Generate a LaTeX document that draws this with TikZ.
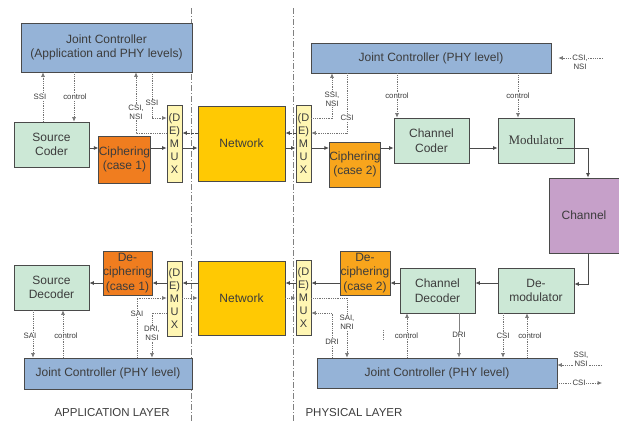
\documentclass[tikz,border=0pt]{standalone}
\usepackage{fontspec}
\setmainfont{Liberation Sans}
\newfontfamily\serifface{Liberation Serif}
\usetikzlibrary{arrows.meta}
\definecolor{jcblue}{HTML}{95B3D7}
\definecolor{blockgreen}{HTML}{CCE8D6}
\definecolor{orangeA}{HTML}{F07D1F}
\definecolor{orangeB}{HTML}{F8A51C}
\definecolor{muxyellow}{HTML}{FFF6B3}
\definecolor{netyellow}{HTML}{FFC903}
\definecolor{chanpurple}{HTML}{C6A0C9}
\definecolor{ink}{HTML}{3C3C3C}
\definecolor{edge}{HTML}{4A4A4A}
\tikzset{
  blk/.style={draw=edge, line width=0.8pt, inner sep=0pt, align=center,
    text=ink, font=\fontsize{12}{14.5}\selectfont},
  jc/.style={blk, fill=jcblue},
  grn/.style={blk, fill=blockgreen},
  mux/.style={blk, fill=muxyellow, font=\fontsize{11}{13}\selectfont},
  lbl/.style={fill=white, inner sep=0.6pt, align=center, text=ink,
    font=\fontsize{7.8}{9}\selectfont},
  tip/.style={-{Latex[length=4.5pt,width=4pt]}},
  sol/.style={tip, draw=edge, line width=0.8pt},
  dot/.style={tip, draw=gray!90!black, line width=0.6pt, dash pattern=on 0.9pt off 0.9pt},
  ret/.style={tip, draw=edge, line width=0.8pt, dash pattern=on 2.5pt off 1.5pt},
  divider/.style={draw=gray, line width=0.9pt, dash pattern=on 6pt off 2pt on 1pt off 2pt},
  layer/.style={text=ink, anchor=west, font=\fontsize{11.5}{13}\selectfont}
}
\begin{document}
\begin{tikzpicture}[x=1pt,y=-1pt]
\useasboundingbox (0,0) rectangle (619,421);

% layer dividers
\coordinate (d1t) at (191,8);  \coordinate (d1b) at (191,421);
\coordinate (d2t) at (293,8);  \coordinate (d2b) at (293,421);
\draw[divider] (d1t) -- (d1b);
\draw[divider] (d2t) -- (d2b);

% ---------- transmit chain ----------
\node[jc, minimum width=171pt, minimum height=49pt] (jcA) at (106.5,47.5)
  {Joint Controller\\(Application and PHY levels)};
\node[grn, minimum width=75pt, minimum height=45pt] (src) at (51.5,144.5) {Source\\Coder};
\node[blk, fill=orangeA, minimum width=51pt, minimum height=47pt] (ciph1) at (124.5,159.5) {Ciphering\\(case 1)};
\node[mux, minimum width=15pt, minimum height=77pt] (dmx1) at (174.5,143.5) {(D\\E)\\M\\U\\X};
\node[blk, fill=netyellow, minimum width=87pt, minimum height=75pt] (net1) at (241.5,143.5) {Network};
\node[mux, minimum width=15pt, minimum height=77pt] (dmx2) at (303.5,143.5) {(D\\E)\\M\\U\\X};
\node[jc, minimum width=240pt, minimum height=30pt] (jcB) at (431,58) {Joint Controller (PHY level)};
\node[blk, fill=orangeB, minimum width=50pt, minimum height=45pt] (ciph2) at (355,164.5) {Ciphering\\(case 2)};
\node[grn, minimum width=75pt, minimum height=45pt] (chc) at (431.5,140.5) {Channel\\Coder};
\node[grn, minimum width=76pt, minimum height=45pt, font=\serifface\fontsize{13}{15}\selectfont] (mod) at (536,140.5) {Modulator};
\node[blk, fill=chanpurple, minimum width=70pt, minimum height=75pt] (chan) at (584,215.5) {Channel};

% ---------- receive chain ----------
\node[grn, minimum width=75pt, minimum height=45pt] (srcd) at (51.5,287.5) {Source\\Decoder};
\node[blk, fill=orangeA, minimum width=49pt, minimum height=44pt] (dec1) at (127.5,273) {De-\\ciphering\\(case 1)};
\node[mux, minimum width=15pt, minimum height=75pt] (dmx3) at (174.5,298.5) {(D\\E)\\M\\U\\X};
\node[blk, fill=netyellow, minimum width=87pt, minimum height=74pt] (net2) at (241.5,298) {Network};
\node[mux, minimum width=15pt, minimum height=75pt] (dmx4) at (303.5,297.5) {(D\\E)\\M\\U\\X};
\node[blk, fill=orangeB, minimum width=50pt, minimum height=44pt] (dec2) at (365,273) {De-\\ciphering\\(case 2)};
\node[grn, minimum width=75pt, minimum height=45pt] (chd) at (437.5,290.5) {Channel\\Decoder};
\node[grn, minimum width=76pt, minimum height=45pt] (demod) at (536,290.5) {De-\\modulator};
\node[jc, minimum width=168pt, minimum height=31pt] (jcC) at (108,373.5) {Joint Controller (PHY level)};
\node[jc, minimum width=240pt, minimum height=30pt] (jcD) at (437,373) {Joint Controller (PHY level)};

% layer captions
\node[layer] (appl) at (51,413) {APPLICATION LAYER};
\node[layer] (phyl) at (302,413) {PHYSICAL LAYER};

% ---------- data paths ----------
\draw[sol] (src.east |- 0,148) -- (ciph1.west |- 0,148);
\draw[sol] (ciph1.east |- 0,148) -- (dmx1.west |- 0,148);
\draw[sol] (dmx1.east |- 0,148) -- (net1.west |- 0,148);
\draw[sol] (net1.east |- 0,148) -- (dmx2.west |- 0,148);
\draw[sol] (dmx2.east |- 0,148) -- (ciph2.west |- 0,148);
\draw[sol] (ciph2.east |- 0,148) -- (chc.west |- 0,148);
\draw[sol] (chc.east |- 0,148) -- (mod.west |- 0,148);
\draw[ret] (net1.west |- 0,133) -- (dmx1.east |- 0,133);
\draw[ret] (dmx2.west |- 0,133) -- (net1.east |- 0,133);

\coordinate (modout) at (557,148);
\draw[sol] (modout) -| ([xshift=4pt]chan.north);
\draw[sol] ([xshift=4pt]chan.south) |- (demod.east |- 0,284);

\draw[sol] (demod.west |- 0,283) -- (chd.east |- 0,283);
\draw[sol] (chd.west |- 0,283) -- (dec2.east |- 0,283);
\draw[sol] (dec2.west |- 0,283) -- (dmx4.east |- 0,283);
\draw[sol] (dmx4.west |- 0,283) -- (net2.east |- 0,283);
\draw[sol] (net2.west |- 0,283) -- (dmx3.east |- 0,283);
\draw[sol] (dmx3.west |- 0,283) -- (dec1.east |- 0,283);
\draw[sol] (dec1.west |- 0,283) -- (srcd.east |- 0,283);
\draw[dot] (dmx3.east |- 0,298) -- (net2.west |- 0,298);
\draw[dot] (net2.east |- 0,298) -- (dmx4.west |- 0,298);

% ---------- control / side information ----------
\draw[dot] (43,0 |- src.north) -- (43,0 |- jcA.south);
\draw[dot] (74,0 |- jcA.south) -- (74,0 |- src.north);
\draw[dot] (dmx1.west |- 0,133) -| (136,0 |- jcA.south);
\draw[dot] (152,0 |- jcA.south) |- (dmx1.west |- 0,118);
\node[lbl] (tSSI) at (40,97) {SSI};
\node[lbl] (tctlA) at (75,97) {control};
\node[lbl] (tCSIA) at (136,112.5) {CSI,\\NSI};
\node[lbl] (tSSIb) at (152,103) {SSI};

\draw[dot] (dmx2.east |- 0,118) -| (332,0 |- jcB.south);
\draw[dot] (347,0 |- jcB.south) |- (dmx2.east |- 0,133);
\draw[dot] (397,0 |- jcB.south) -- (397,0 |- chc.north);
\draw[dot] (518,0 |- jcB.south) -- (518,0 |- mod.north);
\coordinate (extA) at (603,58);
\draw[dot] (extA) -- ([xshift=7pt]jcB.east);
\node[lbl] (tSSIc) at (332,99.5) {SSI,\\NSI};
\node[lbl] (tCSIb) at (347,118) {CSI};
\node[lbl] (tctlB) at (397,96) {control};
\node[lbl] (tctlC) at (518,96) {control};
\node[lbl] (tCSIc) at (580,62.5) {CSI,\\NSI};

\draw[dot] (33,0 |- srcd.south) -- (33,0 |- jcC.north);
\draw[dot] (63,0 |- jcC.north) -- (63,0 |- srcd.south);
\draw[dot] (137,0 |- jcC.north) |- (dmx3.west |- 0,298);
\draw[dot] (dmx3.west |- 0,313) -| (152,0 |- jcC.north);
\node[lbl] (tSAIa) at (30,336) {SAI};
\node[lbl] (tctlD) at (66,336) {control};
\node[lbl] (tSAIb) at (137,314) {SAI};
\node[lbl] (tDRIa) at (152,333.5) {DRI,\\NSI};

\draw[dot] (dmx4.east |- 0,298) -| (347,0 |- jcD.north);
\draw[dot] (332,0 |- jcD.north) |- (dmx4.east |- 0,313);
\coordinate (s1) at (383,330); \coordinate (s2) at (383,340);
\draw[draw=gray, line width=0.6pt, dash pattern=on 0.9pt off 0.9pt] (s1) -- (s2);
\draw[dot] (407,0 |- jcD.north) -- (407,0 |- chd.south);
\draw[sol, draw=gray, line width=0.7pt] (459,0 |- chd.south) -- (459,0 |- jcD.north);
\draw[dot] (503,0 |- demod.south) -- (503,0 |- jcD.north);
\draw[dot] (527,0 |- jcD.north) -- (527,0 |- demod.south);
\coordinate (extB) at (602,365);
\coordinate (extC) at (602,383);
\draw[dot] (extB) -- (jcD.east |- 0,365);
\draw[dot] (jcD.east |- 0,383) -- (extC);
\node[lbl] (tSAIc) at (347,322.5) {SAI,\\NRI};
\node[lbl] (tDRIb) at (332,342) {DRI};
\node[lbl] (tctlE) at (406.5,336) {control};
\node[lbl] (tDRIc) at (459,335) {DRI};
\node[lbl] (tCSId) at (503,336) {CSI};
\node[lbl] (tctlF) at (530,336) {control};
\node[lbl] (tSSId) at (581,359.5) {SSI,\\NSI};
\node[lbl] (tCSIe) at (579,383) {CSI};
\end{tikzpicture}
\end{document}
